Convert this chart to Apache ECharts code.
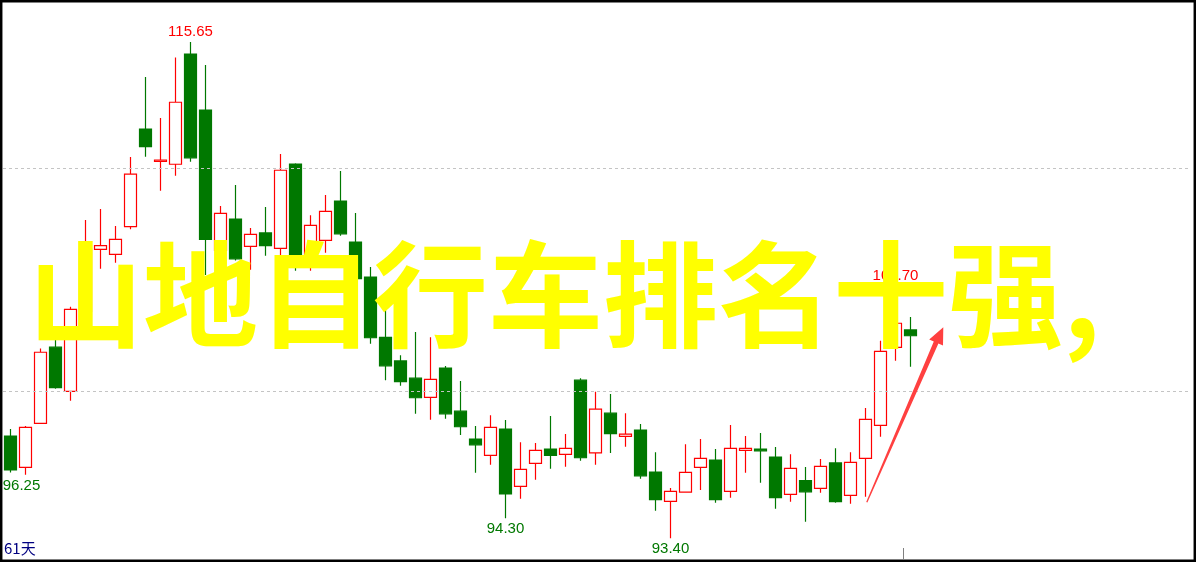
<!DOCTYPE html>
<html>
<head>
<meta charset="utf-8">
<script src="https://cdn.jsdelivr.net/npm/echarts@6/dist/echarts.min.js"></script>
<style>
html,body{margin:0;padding:0;background:#fff;}
#main{width:1196px;height:562px;}
</style>
</head>
<body>
<div id="main"></div>
<script>
// 61 trading days, [open, close, low, high]
var opens  = [97.98,96.58,98.55,101.97,99.99,103.56,106.35,106.13,107.37,111.75,
              110.30,110.17,115.11,112.60,106.31,107.71,106.49,107.09,106.40,110.18,
              105.96,106.76,108.52,106.68,105.11,102.41,101.35,100.58,99.72,101.03,
              99.10,97.85,97.12,98.30,95.73,96.76,97.40,97.16,100.49,97.23,
              99.01,97.97,98.25,96.37,95.05,95.47,96.58,96.91,95.50,97.34,
              97.40,97.04,95.37,95.98,95.64,96.78,95.32,96.98,98.46,101.96,
              102.74];
var closes = [96.46,98.37,101.74,100.15,103.66,106.37,106.52,106.80,109.73,110.96,
              110.36,112.95,110.46,106.80,107.97,105.93,107.03,106.52,109.90,105.78,
              107.43,108.06,107.05,105.04,102.39,101.13,100.42,99.70,100.52,98.98,
              98.40,97.59,98.37,95.39,96.49,97.34,97.12,97.43,97.01,99.19,
              98.09,98.07,96.20,95.13,95.50,96.35,96.98,95.13,97.43,97.43,
              97.32,95.22,96.53,95.48,96.62,95.04,96.80,98.73,101.78,103.04,
              102.48];
var lows   = [96.35,96.25,98.55,100.10,99.57,103.40,105.48,105.75,107.25,110.51,
              108.98,109.65,110.28,105.20,106.10,105.85,105.44,106.07,106.10,105.39,
              105.39,106.20,106.96,104.95,102.12,100.49,100.24,98.98,98.71,98.76,
              98.03,96.34,96.70,94.30,95.17,96.02,96.52,96.61,96.87,96.70,
              97.22,97.50,96.07,94.63,93.40,95.45,95.56,94.99,95.22,96.34,
              95.89,94.72,95.04,94.14,95.44,94.99,94.95,95.26,97.95,101.36,
              101.09];
var highs  = [98.30,98.43,101.91,102.32,103.78,107.67,108.16,107.40,110.49,114.08,
              112.24,114.96,115.65,114.62,108.30,109.24,107.31,108.25,110.63,110.21,
              107.88,108.79,109.87,107.98,105.56,103.63,101.61,102.65,102.41,101.12,
              100.45,98.43,98.92,98.70,97.71,97.67,98.88,98.07,100.58,99.97,
              99.87,99.01,98.52,97.26,95.65,97.62,97.85,97.40,98.48,97.98,
              98.12,97.49,97.17,96.59,96.95,97.44,97.26,99.24,102.26,104.70,
              103.32];
var totalSlots = 79;
var days = [];
for (var d = 1; d <= opens.length; d++) days.push(String(d));
var categories = days.slice();
while (categories.length < totalSlots) categories.push('');
// gridline price levels
var gridLevels = [100, 110];
// price annotations: [index, kind]
var noteIdx  = [12, 59, 1, 33, 44];
var noteKind = ['high', 'high', 'low', 'low', 'low'];
var titleText = '山地自行车排名十强,';
var periodText = opens.length + '天';

var candleData = opens.map(function (o, i) { return [o, closes[i], lows[i], highs[i]]; });
var notes = noteIdx.map(function (idx, k) {
  var isHigh = noteKind[k] === 'high';
  var v = isHigh ? highs[idx] : lows[idx];
  return {
    coord: [idx, v], value: v, symbolSize: 0,
    label: {
      show: true, formatter: v.toFixed(2), position: 'inside',
      offset: [idx === 1 ? -4 : 0, isHigh ? -10 : 11],
      color: isHigh ? '#ff0000' : '#007800',
      fontFamily: 'Liberation Sans', fontSize: 15
    }
  };
});

var chart = echarts.init(document.getElementById('main'), null, { renderer: 'canvas' });
chart.setOption({
  animation: false,
  backgroundColor: '#ffffff',
  grid: { left: 3, right: 8, top: 3, bottom: 3, containLabel: false },
  xAxis: {
    type: 'category', data: categories, boundaryGap: true,
    axisLine: { show: false }, axisTick: { show: false }, axisLabel: { show: false },
    splitLine: { show: false }
  },
  yAxis: {
    type: 'value', min: 92.47, max: 117.40, scale: true,
    axisLine: { show: false }, axisTick: { show: false }, axisLabel: { show: false },
    splitLine: { show: false }
  },
  series: [{
    type: 'candlestick',
    data: candleData,
    barWidth: 13,
    itemStyle: {
      color: '#ffffff', borderColor: '#ff0000',
      color0: '#007800', borderColor0: '#007800',
      borderWidth: 1.2
    },
    markLine: {
      silent: true, symbol: 'none', animation: false,
      label: { show: false },
      lineStyle: { color: '#c4c4c4', type: [3, 3], width: 1 },
      data: gridLevels.map(function (g) { return { yAxis: g }; })
    },
    markPoint: {
      silent: true, animation: false,
      data: notes
    }
  }],
  graphic: [
    {
      type: 'text', left: 4, top: 541, z: 50,
      style: { text: periodText, fill: '#000080', font: '15px "Noto Sans CJK SC"' }
    },
    {
      type: 'line', z: 50,
      shape: { x1: 903.5, y1: 548, x2: 903.5, y2: 559 },
      style: { stroke: '#808080', lineWidth: 1 }
    },
    {
      type: 'text', z: 100, x: 28, y: 294,
      style: {
        text: titleText, fill: '#ffff00',
        font: 'bold 115px "Noto Sans CJK SC"',
        textVerticalAlign: 'middle', textAlign: 'left'
      }
    },
    {
      type: 'polygon', z: 101,
      shape: { points: [[866.2, 502.1], [867.4, 502.6], [938.4, 343.6], [943.0, 345.6], [943.3, 327.3], [929.2, 339.6], [933.8, 341.6]] },
      style: { fill: '#ff4040' }
    },
    {
      type: 'rect', z: 200,
      shape: { x: 1.2, y: 1.2, width: 1193.6, height: 559.6 },
      style: { fill: 'none', stroke: '#000000', lineWidth: 2.5 }
    }
  ]
});
</script>
</body>
</html>
